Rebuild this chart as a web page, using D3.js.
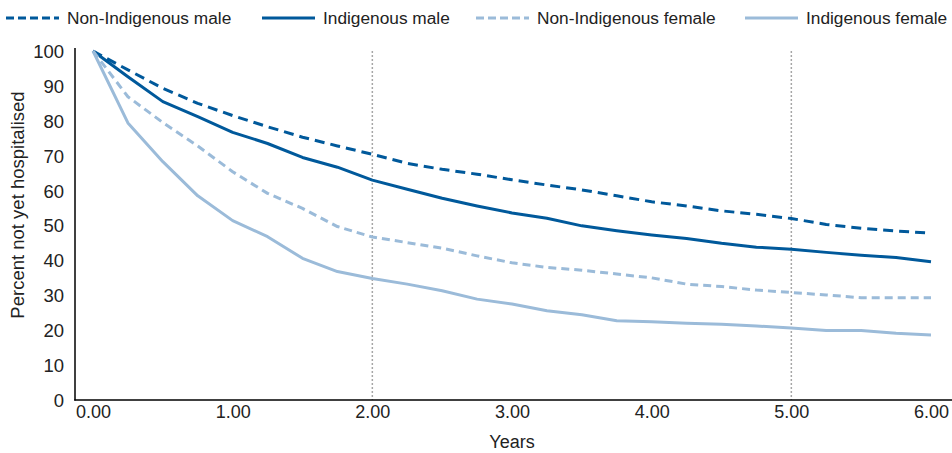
<!DOCTYPE html>
<html>
<head>
<meta charset="utf-8">
<script src="https://cdn.jsdelivr.net/npm/d3@7"></script>
<style>
  body { margin: 0; background: #fff; }
  svg text { font-family: "Liberation Sans", Arial, sans-serif; fill: #222; }
</style>
</head>
<body>
<div id="chartContainer"></div>
<script>
var width = 952, height = 453;

// years since start, quarterly
var years = [0, 0.25, 0.5, 0.75, 1, 1.25, 1.5, 1.75, 2, 2.25, 2.5, 2.75, 3,
             3.25, 3.5, 3.75, 4, 4.25, 4.5, 4.75, 5, 5.25, 5.5, 5.75, 6];

var nonIndigMale = [100, 94.6, 89.3, 85, 81.5, 78.3, 75.3, 72.8, 70.4, 67.8, 66.1, 64.7, 63.1,
                    61.6, 60.2, 58.5, 56.8, 55.6, 54.2, 53.2, 52.0, 50.3, 49.2, 48.4, 47.8];
var indigMale = [100, 92.6, 85.5, 81.2, 76.7, 73.5, 69.5, 66.7, 63, 60.4, 57.8, 55.6, 53.6,
                 52.1, 49.9, 48.5, 47.3, 46.3, 44.9, 43.8, 43.2, 42.3, 41.5, 40.8, 39.6];
var nonIndigFemale = [100, 86.9, 79.5, 72.8, 65.4, 59.2, 54.9, 49.7, 46.7, 45.1, 43.5, 41.3, 39.3,
                      38, 37.2, 36.1, 35, 33.2, 32.5, 31.5, 30.8, 30.1, 29.3, 29.3, 29.3];
var indigFemale = [100, 79.4, 68.3, 58.5, 51.4, 46.8, 40.6, 36.8, 34.8, 33.2, 31.3, 28.9, 27.5,
                   25.6, 24.4, 22.7, 22.4, 22, 21.7, 21.2, 20.6, 19.9, 19.9, 19.1, 18.6];

var xTicks = [0, 1, 2, 3, 4, 5, 6];
var yTicks = [0, 10, 20, 30, 40, 50, 60, 70, 80, 90, 100];
var refYears = [2, 5];

var dark = "#00599b", light = "#9bbbd9";

var series = [
  { name: "Non-Indigenous male", values: nonIndigMale, color: dark, dash: "10,6", tx: 67 },
  { name: "Indigenous male", values: indigMale, color: dark, dash: null, tx: 323 },
  { name: "Non-Indigenous female", values: nonIndigFemale, color: light, dash: "8,5", tx: 537 },
  { name: "Indigenous female", values: indigFemale, color: light, dash: null, tx: 806 }
];

var svg = d3.select("#chartContainer").append("svg")
  .attr("width", width).attr("height", height);

var x = d3.scaleLinear().domain([0, 6]).range([93, 931]);
var y = d3.scaleLinear().domain([0, 100]).range([400, 51]);

// dotted reference lines
svg.selectAll(".ref").data(refYears).enter().append("line")
  .attr("x1", d => x(d)).attr("x2", d => x(d))
  .attr("y1", y(100)).attr("y2", y(0))
  .style("stroke", "#a6a6a6").style("stroke-width", 1.5)
  .style("stroke-dasharray", "2,2");

// y axis
var yAxis = svg.append("g").attr("transform", "translate(75,0)")
  .call(d3.axisLeft(y).tickValues(yTicks).tickSize(0).tickPadding(11));
yAxis.select(".domain").remove();
yAxis.selectAll("text").style("font-size", "18.5px").attr("dy", "0.35em");
svg.append("line").attr("x1", 75).attr("x2", 75).attr("y1", 48).attr("y2", 400.5)
  .style("stroke", "#000").style("stroke-width", 1.5);

// x axis
var xAxis = svg.append("g").attr("transform", "translate(0,400)")
  .call(d3.axisBottom(x).tickValues(xTicks).tickFormat(d3.format(".2f")).tickSize(0).tickPadding(5));
xAxis.select(".domain").remove();
xAxis.selectAll("text").style("font-size", "18px");
svg.append("line").attr("x1", 74.25).attr("x2", 952).attr("y1", 400).attr("y2", 400)
  .style("stroke", "#000").style("stroke-width", 1.5);

// axis titles
svg.append("text").attr("x", 512).attr("y", 448).attr("text-anchor", "middle")
  .style("font-size", "18px").text("Years");
svg.append("text").attr("transform", "translate(24,205) rotate(-90)")
  .attr("text-anchor", "middle").style("font-size", "18.5px")
  .text("Percent not yet hospitalised");

// lines
var line = d3.line().x((d, i) => x(years[i])).y(d => y(d));
svg.selectAll(".series").data(series).enter().append("path")
  .attr("d", d => line(d.values))
  .style("fill", "none").style("stroke", d => d.color)
  .style("stroke-width", 3).style("stroke-linejoin", "round")
  .style("stroke-dasharray", d => d.dash);

// legend
var leg = svg.selectAll(".leg").data(series).enter().append("g")
  .attr("transform", d => "translate(" + d.tx + ",18)");
leg.append("line").attr("x1", -61).attr("x2", -8)
  .style("stroke", d => d.color).style("stroke-width", 3)
  .style("stroke-dasharray", d => d.dash ? "8,4" : null);
leg.append("text").attr("dy", "0.35em")
  .style("font-size", "17.3px").text(d => d.name);
</script>
</body>
</html>
